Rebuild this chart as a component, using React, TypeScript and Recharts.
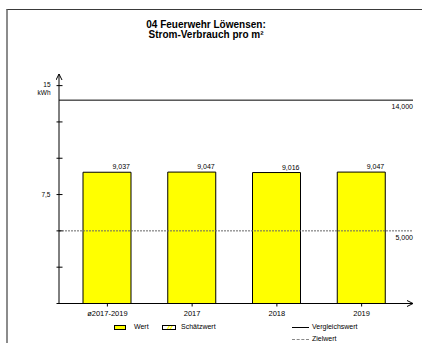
import React from "react";
import { Bar, BarChart, LabelList, ReferenceLine, XAxis, YAxis } from "recharts";

const categories = ["ø2017-2019", "2017", "2018", "2019"];
const wertValues = [9.037, 9.047, 9.016, 9.047];
const vergleichswert = 14;
const zielwert = 5;
const yTicks = [0, 2.5, 5, 7.5, 10, 12.5, 15];
const yTickLabels: Record<string, string[]> = { "15": ["15", "kWh"], "7.5": ["7,5"] };
const titleLines = ["04 Feuerwehr Löwensen:", "Strom-Verbrauch pro m²"];

const data = categories.map((name, i) => ({ name, wert: wertValues[i] }));

const FONT = "'Liberation Sans', Arial, sans-serif";

const fmt = (v: number) => v.toFixed(3).replace(".", ",");

const YTick = (props: any) => {
  const { x, y, payload } = props;
  const lines = yTickLabels[String(payload.value)] ?? [];
  const offsets = lines.length > 1 ? [-1.5, 6.5] : [0];
  return (
    <g>
      <line x1={x - 2.5} x2={x + 3.5} y1={y} y2={y} stroke="#000" />
      {lines.map((t, i) => (
        <text key={t} x={x - 8.5} y={y + offsets[i] + 2.4} textAnchor="end" fontSize={6.5} fill="#000" fontFamily={FONT}>
          {t}
        </text>
      ))}
    </g>
  );
};

const BarValue = (props: any) => {
  const { x, y, width, value } = props;
  return (
    <text x={x + width - 1} y={y - 3} textAnchor="end" fontSize={7} fill="#000" fontFamily={FONT}>
      {fmt(value)}
    </text>
  );
};

const refLabel = (text: string) => (props: any) => {
  const { viewBox } = props;
  return (
    <text x={viewBox.x + viewBox.width} y={viewBox.y + 9} textAnchor="end" fontSize={7} fill="#000" fontFamily={FONT}>
      {text}
    </text>
  );
};

export default function App() {
  return (
    <div style={{ position: "fixed", left: 0, top: 0, width: 422, height: 343, background: "#fff", fontFamily: FONT }}>
      <div
        style={{
          position: "absolute",
          left: 6,
          top: 9,
          width: 416,
          height: 334,
          borderLeft: "2px solid #8c8c8c",
          borderTop: "1px solid #3a3a3a",
          boxSizing: "border-box"
        }}
      />
      <div
        style={{
          position: "absolute",
          left: 0,
          width: 412,
          top: 19.5,
          textAlign: "center",
          fontWeight: "bold",
          fontSize: 10,
          lineHeight: "10.5px",
          color: "#000"
        }}
      >
        {titleLines.map((t) => (
          <div key={t}>{t}</div>
        ))}
      </div>
      <div style={{ position: "absolute", left: 0, top: 0 }}>
        <BarChart width={422} height={343} data={data} margin={{ top: 74, right: 9, bottom: 0, left: 0 }}>
          <defs>
            <marker
              id="axisArrow"
              viewBox="0 0 7 7"
              markerWidth={7}
              markerHeight={7}
              refX={6.5}
              refY={3.5}
              markerUnits="userSpaceOnUse"
              orient="auto-start-reverse"
            >
              <path d="M0.5,0.5 L6.5,3.5 L0.5,6.5" fill="none" stroke="#000" strokeWidth={1} />
            </marker>
          </defs>
          <YAxis
            width={59}
            type="number"
            domain={[0, 15.8]}
            ticks={yTicks}
            interval={0}
            tickSize={0}
            tickMargin={0}
            tickLine={false}
            axisLine={{ stroke: "#000", strokeWidth: 1, markerStart: "url(#axisArrow)" }}
            tick={<YTick />}
          />
          <XAxis
            dataKey="name"
            height={39.5}
            padding={{ left: 6, right: 9 }}
            tickSize={3}
            tickMargin={4.5}
            tickLine={{ stroke: "#000" }}
            axisLine={{ stroke: "#000", strokeWidth: 1, markerEnd: "url(#axisArrow)" }}
            tick={{ fontSize: 7.5, fill: "#000", fontFamily: FONT }}
            interval={0}
          />
          <ReferenceLine y={vergleichswert} stroke="#000" strokeWidth={1} label={refLabel(fmt(vergleichswert))} />
          <ReferenceLine
            y={zielwert}
            stroke="#666"
            strokeWidth={1}
            strokeDasharray="2 1"
            label={refLabel(fmt(zielwert))}
          />
          <Bar dataKey="wert" barSize={48} fill="#ffff00" stroke="#000" strokeWidth={1} isAnimationActive={false}>
            <LabelList dataKey="wert" content={<BarValue />} />
          </Bar>
        </BarChart>
      </div>
      {/* legend */}
      <div style={{ position: "absolute", left: 114, top: 324.5, width: 12, height: 5, background: "#ffff00", border: "1px solid #000", boxSizing: "border-box" }} />
      <div style={{ position: "absolute", left: 134, top: 323, fontSize: 7, lineHeight: "8px" }}>Wert</div>
      <div
        style={{
          position: "absolute",
          left: 162,
          top: 324.5,
          width: 14,
          height: 5,
          background: "linear-gradient(120deg, #fff 35%, #ffff00 45%, #fff 55%, #ffff00 65%, #fff 75%)",
          border: "1px solid #000",
          boxSizing: "border-box"
        }}
      />
      <div style={{ position: "absolute", left: 181, top: 323, fontSize: 7, lineHeight: "8px" }}>Schätzwert</div>
      <div style={{ position: "absolute", left: 292, top: 326.5, width: 17, height: 1, background: "#000" }} />
      <div style={{ position: "absolute", left: 312, top: 323, fontSize: 7, lineHeight: "8px" }}>Vergleichswert</div>
      <div style={{ position: "absolute", left: 292, top: 338.5, width: 17, height: 0, borderTop: "1px dashed #888" }} />
      <div style={{ position: "absolute", left: 312, top: 335, fontSize: 7, lineHeight: "8px" }}>Zielwert</div>
    </div>
  );
}
